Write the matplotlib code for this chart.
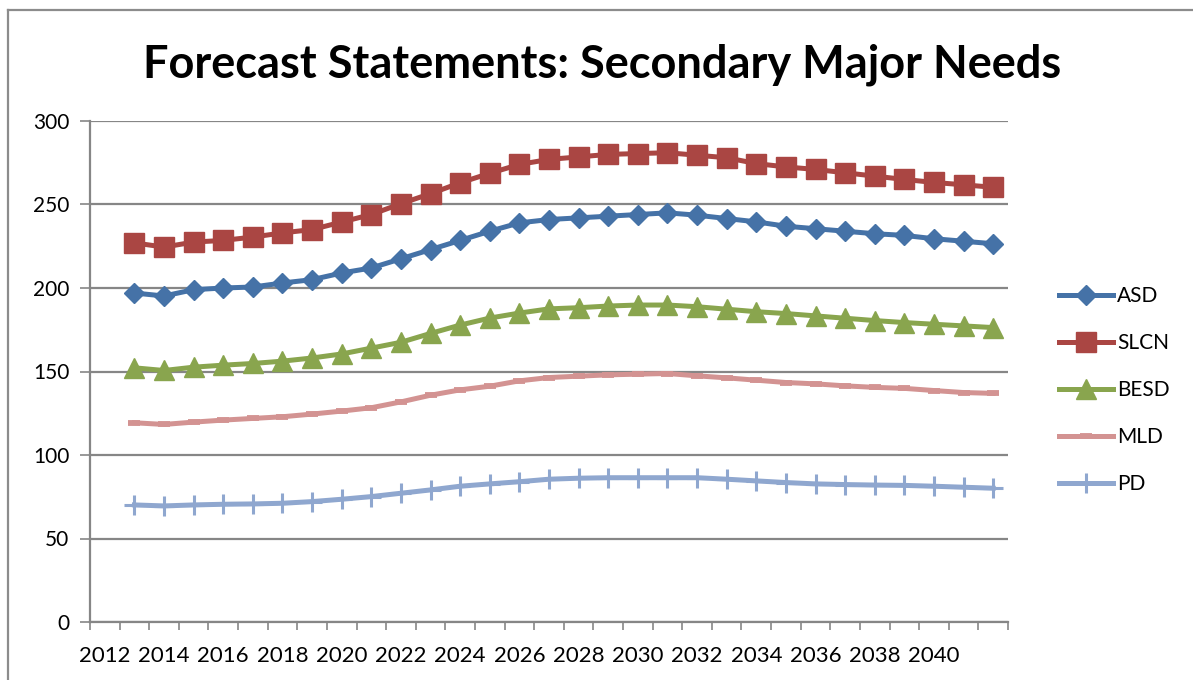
#!/usr/bin/env python3
"""Forecast statements line chart: secondary major needs by year."""

from __future__ import annotations

import matplotlib
matplotlib.use("Agg")
import matplotlib.pyplot as plt
from matplotlib.lines import Line2D
from matplotlib.ticker import FixedLocator

YEARS = list(range(2013, 2043))

ASD = [197, 195.2, 199, 200, 200.6, 203, 205, 209, 212, 217.5,
       223, 228.5, 234, 239, 241, 242, 243, 244, 245, 243.6,
       241.6, 239.6, 237, 235.5, 234, 232.5, 231.5, 229.5, 228, 226.5]
SLCN = [227, 224.5, 227.5, 228.5, 230.5, 233, 235, 239.5, 244, 250.5,
        256.5, 263, 268.7, 274, 277, 278.5, 280, 280.5, 281, 279.5,
        278, 274.5, 272.5, 271, 269, 267, 265, 263.2, 261.8, 260.3]
BESD = [152.2, 150.6, 152.6, 153.8, 154.8, 156.2, 158.1, 160.5, 164, 167.5,
        172.8, 177.8, 182, 185, 187.5, 188.2, 189.2, 189.8, 189.8, 188.8,
        187.3, 185.8, 184.7, 183.3, 181.9, 180.5, 179.3, 178.3, 177.3, 176.3]
MLD = [119.3, 118.3, 119.7, 120.9, 121.9, 122.9, 124.5, 126.3, 128.3, 131.8,
       135.8, 139, 141.2, 144.4, 146.4, 147.2, 148, 148.4, 148.8, 147.4,
       146.2, 144.8, 143.4, 142.6, 141.4, 140.5, 139.9, 138.6, 137.4, 136.9]
PD = [70.1, 69.5, 70.1, 70.5, 70.7, 71.1, 72.1, 73.5, 75.1, 77.1,
      79.1, 81.3, 82.7, 84, 85.5, 86.1, 86.4, 86.4, 86.4, 86.4,
      85.5, 84.5, 83.5, 82.7, 82.3, 82, 81.8, 81.3, 80.7, 80.1]

FIRST_YEAR = 2012
LAST_YEAR = 2042
LABEL_YEARS = list(range(2012, 2041, 2))
Y_TICKS = [0, 50, 100, 150, 200, 250, 300]

GRID = "#868686"


def main() -> None:
    plt.rcParams["font.family"] = ["Lato", "DejaVu Sans"]
    fig = plt.figure(figsize=(11.93, 6.80), dpi=100)
    ax = fig.add_axes([90 / 1193, 1 - 622 / 680, 918 / 1193, 501 / 680])

    lw = 3.6
    ax.plot(YEARS, ASD, color="#4572A7", linewidth=lw, marker="D", markersize=10.5, label="ASD", zorder=5)
    ax.plot(YEARS, SLCN, color="#AA4643", linewidth=lw, marker="s", markersize=14.5, label="SLCN", zorder=5)
    ax.plot(YEARS, BESD, color="#89A54E", linewidth=lw, marker="^", markersize=15, label="BESD", zorder=5)
    ax.plot(YEARS, MLD, color="#D39392", linewidth=lw, marker="_", markersize=8, markeredgewidth=4.2, label="MLD", zorder=4)
    ax.plot(YEARS, PD, color="#8FA7CF", linewidth=lw, marker="+", markersize=14, markeredgewidth=2.2, label="PD", zorder=4)

    ax.set_xlim(FIRST_YEAR - 0.5, LAST_YEAR + 0.5)
    ax.set_ylim(0, 300)
    ax.set_yticks(Y_TICKS)
    ax.yaxis.grid(True, color=GRID, linewidth=1.6)
    ax.set_axisbelow(True)

    ax.set_xticks(LABEL_YEARS)
    ax.set_xticklabels([str(y) for y in LABEL_YEARS])
    ax.xaxis.set_minor_locator(FixedLocator([y - 0.5 for y in range(FIRST_YEAR, LAST_YEAR + 2)]))
    ax.tick_params(axis="x", which="major", length=0, pad=17, labelsize=16)
    ax.tick_params(axis="x", which="minor", length=6, width=1.2, color=GRID, direction="out")
    ax.tick_params(axis="y", length=7, width=1.2, color=GRID, pad=8, labelsize=15)

    for side in ("top", "right"):
        ax.spines[side].set_visible(False)
    for side in ("left", "bottom"):
        ax.spines[side].set_color(GRID)
        ax.spines[side].set_linewidth(1.6)

    fig.text(0.505, 1 - 78 / 680, "Forecast Statements: Secondary Major Needs",
             ha="center", va="baseline", fontsize=32.5, fontweight="bold")

    ax.legend(loc="center left", bbox_to_anchor=(1059 / 1193, 1 - 390 / 680),
              bbox_transform=fig.transFigure, frameon=False, fontsize=15,
              handlelength=2.6, handletextpad=0.2, labelspacing=1.3,
              borderpad=0, borderaxespad=0)

    # chart-area border, only top and left sides fall inside the crop
    fig.add_artist(Line2D([8 / 1193, 8 / 1193], [0, 1 - 10 / 680], transform=fig.transFigure,
                          color="#8C8C8C", linewidth=1.6))
    fig.add_artist(Line2D([8 / 1193, 1], [1 - 10 / 680, 1 - 10 / 680], transform=fig.transFigure,
                          color="#8C8C8C", linewidth=1.6))

    fig.savefig("out.png", dpi=100)
    plt.close(fig)


if __name__ == "__main__":
    main()
